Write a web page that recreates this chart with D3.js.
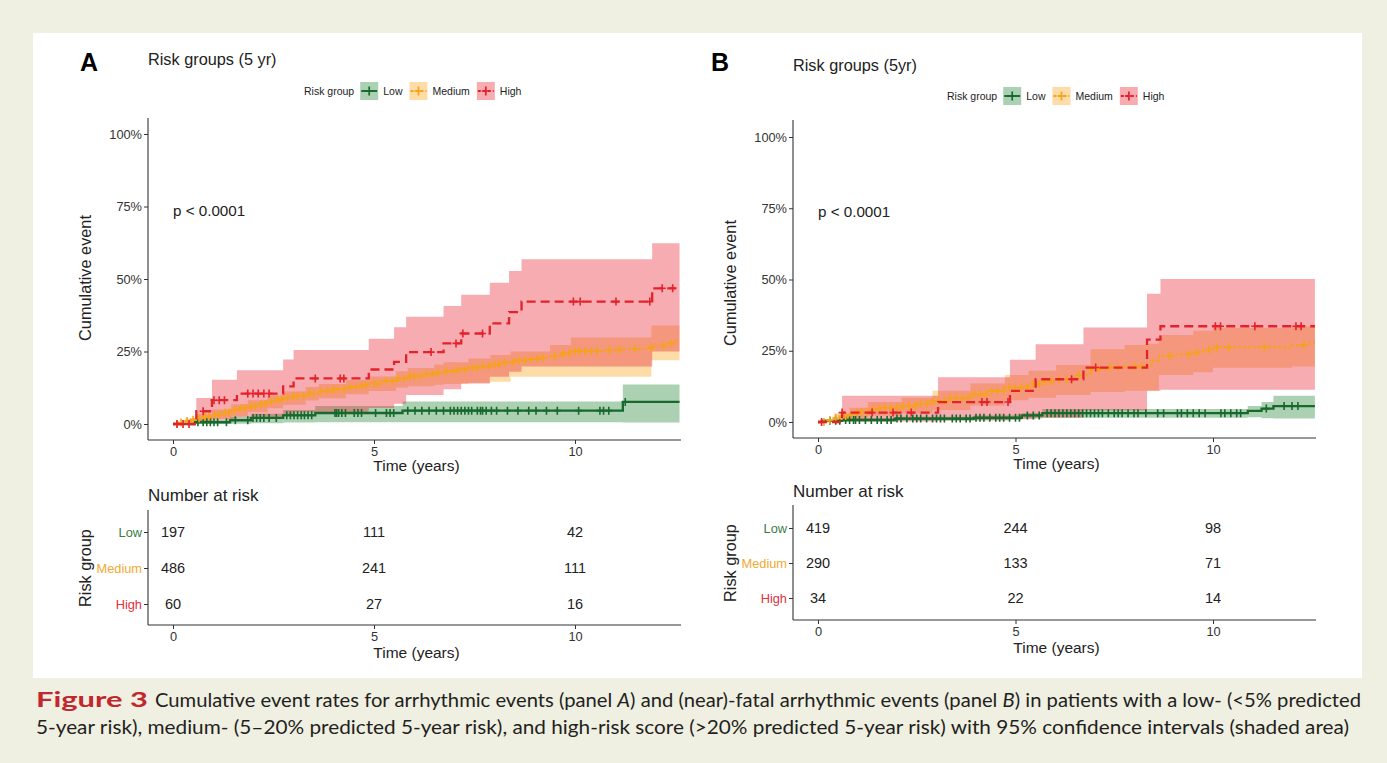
<!DOCTYPE html>
<html>
<head>
<meta charset="utf-8">
<script src="https://cdn.jsdelivr.net/npm/d3@7"></script>
<style>
body{margin:0;background:#efefe2;}
text{font-family:"Liberation Sans",Arial,sans-serif;}
.cap{font-family:Lato,"Open Sans",sans-serif;}
</style>
</head>
<body>
<svg id="fig" width="1387" height="763"></svg>
<script>
// ---- data (percent cumulative event, time in years) ----
const groups = ["Low", "Medium", "High"];
const xTicks = [0, 5, 10];
const yTicks = [0, 25, 50, 75, 100];

// panel A
const aEnd = 12.6;
const aLowT = [0, 0.53, 1.42, 1.95, 2.74, 3.54, 5.71, 11.19];
const aLowEst = [0, 0.6, 1.3, 2.1, 3.0, 3.8, 4.6, 7.6];
const aLowUp = [0, 1.5, 2.5, 3.5, 4.8, 6.2, 7.8, 13.6];
const aLowLo = [0, 0, 0.1, 0.3, 0.5, 0.6, 0.6, 0.5];
const aLowCens = [0.62,0.75,0.84,0.93,1.02,1.11,1.33,1.55,1.86,1.99,2.08,2.17,2.26,2.39,2.57,2.83,2.92,3.01,3.10,3.19,3.27,3.36,3.45,4.03,4.07,4.12,4.20,4.29,4.51,4.60,4.69,5.04,5.31,5.40,5.49,5.84,6.02,6.19,6.37,6.55,6.73,6.90,6.99,7.08,7.17,7.26,7.35,7.43,7.57,7.65,7.70,7.79,7.92,8.05,8.32,8.58,8.85,9.03,9.29,9.56,10.09,10.62,10.71,10.84,11.25];

const aMedT = [0,0.15,0.3,0.45,0.58,0.75,0.97,1.2,1.45,1.65,1.86,2.1,2.35,2.55,2.74,3.0,3.3,3.63,3.95,4.3,4.6,4.87,5.2,5.55,5.84,6.2,6.5,6.73,7.05,7.35,7.61,7.9,8.2,8.5,8.8,9.1,9.38,9.65,9.9,10.7,11.2,11.77,12.0,12.3,12.5];
const aMedEst = [0,0.5,1.0,1.5,2.0,2.6,3.2,4.0,4.8,5.5,6.1,6.9,7.7,8.4,9.0,9.7,10.5,11.3,12.0,12.7,13.3,13.9,14.8,15.7,16.5,17.2,17.7,18.2,18.8,19.4,19.9,20.5,21.2,21.9,22.4,22.9,23.4,24.3,25.1,25.5,25.9,26.3,27.0,27.8,28.6];
const aMedCiT = [0,0.3,0.58,0.97,1.45,1.86,2.35,2.74,3.3,3.63,4.3,4.87,5.55,5.84,6.5,6.73,7.35,7.9,8.4,9.38,9.9,11.9];
const aMedUp = [0,2.0,3.4,5.0,6.8,8.2,9.8,11.2,12.8,13.8,15.2,16.4,18.2,19.3,20.5,21.3,22.6,23.8,25.0,27.2,29.8,34.0];
const aMedLo = [0,0.2,0.8,1.6,2.8,4.1,5.4,6.6,8.1,8.9,10.3,11.4,12.6,13.0,13.5,13.8,14.2,14.6,16.3,16.3,16.3,22.0];
const aMedCens = [0.1,0.2,0.35,0.5,0.65,0.8,0.9,1.05,1.15,1.3,1.4,1.55,1.7,1.8,1.95,2.05,2.2,2.3,2.45,2.6,2.7,2.85,3.0,3.1,3.25,3.4,3.5,3.7,3.85,4.0,4.1,4.25,4.4,4.55,4.7,4.8,5.0,5.1,5.3,5.45,5.6,5.75,5.9,6.0,6.15,6.3,6.45,6.6,6.8,6.95,7.1,7.25,7.45,7.55,7.7,7.85,8.0,8.1,8.25,8.45,8.6,8.75,8.9,9.05,9.2,9.5,9.7,9.85,10.0,10.1,10.25,10.4,10.55,10.85,11.1,11.5,11.9,12.2,12.4];

const aHighT = [0,0.58,0.97,1.59,2.74,3.0,4.87,5.5,5.8,6.73,7.17,7.88,8.36,8.67,11.92];
const aHighEst = [0,4.4,8.2,10.5,13.0,15.7,18.8,21.4,24.8,27.8,31.2,34.7,38.6,42.2,46.8];
const aHighUp = [0,9.0,15.3,18.5,22.2,25.5,29.4,33.4,37.0,40.7,44.6,48.7,52.8,56.8,62.3];
const aHighLo = [0,0.3,1.5,2.3,3.0,4.0,5.5,7.0,10.0,12.0,14.0,16.3,18.0,19.8,25.0];
const aHighCens = [0.1,0.25,0.4,0.75,1.02,1.15,1.28,1.86,1.99,2.12,2.26,2.39,3.54,4.16,4.25,6.42,7.04,7.21,7.70,9.96,10.13,11.02,11.86,12.17,12.43];

const aRiskLow = [197, 111, 42];
const aRiskMed = [486, 241, 111];
const aRiskHigh = [60, 27, 16];

// panel B
const bEnd = 12.58;
const bLowT = [0,0.1,0.61,1.95,3.95,5.16,5.68,10.88,11.23,11.53];
const bLowEst = [0,0.4,0.7,1.2,1.5,2.3,3.1,3.9,4.7,5.6];
const bLowUp = [0,1.0,1.3,1.8,2.3,3.2,4.6,5.6,7.0,9.2];
const bLowLo = [0,0,0.2,0.5,0.7,1.2,1.5,1.7,1.3,1.2];
const bLowCens = [0.3,0.45,0.55,0.7,0.8,0.9,0.95,1.05,1.2,1.35,1.5,1.6,1.75,1.85,2.0,2.1,2.25,2.4,2.5,2.6,2.75,2.9,3.0,3.1,3.2,3.4,3.5,3.6,3.75,3.85,4.0,4.1,4.2,4.35,4.5,4.6,4.7,4.85,5.0,5.1,5.3,5.45,5.6,5.8,5.9,6.0,6.1,6.2,6.3,6.4,6.5,6.6,6.7,6.8,6.9,7.0,7.1,7.2,7.35,7.5,7.6,7.7,7.85,8.0,8.1,8.3,8.6,8.75,9.1,9.2,9.35,9.5,9.65,9.8,10.2,10.3,10.45,10.6,10.7,11.35,11.8,12.0,12.15];

const bMedT = [0,0.2,0.4,0.6,0.8,1.0,1.26,1.6,2.12,2.5,2.9,3.3,3.86,4.3,4.73,5.33,5.7,6.03,6.5,6.9,7.3,7.76,8.28,8.45,8.63,9.0,9.5,9.75,10.0,12.0,12.45];
const bMedEst = [0,0.6,1.4,2.1,2.7,3.5,4.5,5.0,5.6,6.4,7.4,8.4,9.7,10.9,12.1,13.3,14.2,15.0,16.5,18.5,19.2,19.5,19.7,21.5,23.2,23.8,24.4,25.3,26.2,27.0,27.9];
const bMedCiT = [0,0.4,0.8,1.26,2.12,2.9,3.86,4.73,5.33,6.03,6.9,7.76,8.28,8.63,9.5,10.0,12.0];
const bMedUp = [0,3.0,5.0,7.0,8.5,11.0,13.5,16.5,18.0,20.0,25.5,27.0,27.5,30.5,32.0,33.0,33.5];
const bMedLo = [0,0.3,1.0,2.2,3.0,4.2,5.8,7.6,8.5,9.5,10.5,11.0,11.0,16.5,17.5,19.0,19.5];
const bMedCens = [0.15,0.3,0.45,0.6,0.7,0.85,1.0,1.1,1.25,1.4,1.55,1.7,1.85,2.0,2.15,2.3,2.45,2.6,2.75,2.9,3.05,3.2,3.35,3.5,3.65,3.8,3.95,4.1,4.25,4.4,4.55,4.7,4.85,5.0,5.15,5.3,5.45,5.6,5.75,5.9,6.1,6.3,6.6,6.9,7.1,7.4,7.6,8.0,8.2,8.9,9.4,9.6,9.9,10.1,10.4,11.3,12.3];

const bHighT = [0,0.61,3.04,4.86,5.51,6.72,8.33,8.67];
const bHighEst = [0,3.3,7.0,10.9,15.0,19.1,28.9,33.6];
const bHighUp = [0,9.2,15.7,21.8,27.3,33.2,45.0,50.2];
const bHighLo = [0,0.2,0.5,1.0,1.5,4.0,11.0,11.3];
const bHighCens = [0.09,0.61,1.37,1.9,2.36,4.15,4.28,4.81,6.42,7.03,10.06,10.19,11.06,12.1,12.23];

const bRiskLow = [419, 244, 98];
const bRiskMed = [290, 133, 71];
const bRiskHigh = [34, 22, 14];

// ---- styles ----
const lineCol = {Low: "#17692e", Medium: "#f5a31a", High: "#e3222b"};
const fillCol = {Low: "#2e8b3e", Medium: "#f9a825", High: "#e8303a"};
const textCol = {Low: "#3a7d44", Medium: "#f2a933", High: "#e0323c"};
const dash = {Low: null, Medium: "2.5,2.5", High: "9,5"};
const FONT = "Liberation Sans, Arial, sans-serif";

const svg = d3.select("#fig");
svg.append("rect").attr("x", 0).attr("y", 0).attr("width", 1387).attr("height", 763).attr("fill", "#efefe2");
svg.append("rect").attr("x", 33).attr("y", 33).attr("width", 1329).attr("height", 645).attr("fill", "#ffffff");

function stepAt(ts, vs, t) {
    let i = d3.bisectRight(ts, t) - 1;
    return vs[Math.max(i, 0)];
}

function styleAxis(a, size) {
    a.select(".domain").remove();
    a.selectAll("line").attr("stroke", "#333");
    a.selectAll("text").attr("font-size", size).attr("fill", "#333").style("font-family", FONT);
}

function drawPanel(p) {
    var g = svg.append("g");
    var x = d3.scaleLinear().domain([0, 10]).range([p.x0, p.x10]);
    var y = d3.scaleLinear().domain([0, 100]).range([p.y0, p.y100]);

    g.append("text").attr("x", p.letterX).attr("y", 71).attr("font-size", 25).attr("font-weight", "bold").text(p.letter);
    g.append("text").attr("x", p.left).attr("y", p.titleY).attr("font-size", 16.3).attr("fill", "#222").text(p.title);

    // legend
    var lg = g.append("g");
    var lx = p.legX;
    var t0 = lg.append("text").attr("x", lx).attr("y", p.legY + 3.8).attr("font-size", 10.5).attr("fill", "#222").text("Risk group");
    lx += t0.node().getComputedTextLength() + 6;
    groups.forEach(function(k) {
        lg.append("rect").attr("x", lx).attr("y", p.legY - 9).attr("width", 18).attr("height", 18)
          .attr("fill", fillCol[k]).attr("fill-opacity", 0.4);
        lg.append("line").attr("x1", lx + 1).attr("x2", lx + 17).attr("y1", p.legY).attr("y2", p.legY)
          .attr("stroke", lineCol[k]).attr("stroke-width", 1.9).attr("stroke-dasharray", dash[k] ? "3,2" : null);
        lg.append("path").attr("d", "M" + (lx + 9) + "," + (p.legY - 4.5) + "V" + (p.legY + 4.5) + "M" + (lx + 5) + "," + p.legY + "H" + (lx + 13))
          .attr("stroke", lineCol[k]).attr("stroke-width", 1.7).attr("fill", "none");
        lx += 23;
        var tt = lg.append("text").attr("x", lx).attr("y", p.legY + 3.8).attr("font-size", 10.5).attr("fill", "#222").text(k);
        lx += tt.node().getComputedTextLength() + 7;
    });

    var area = d3.area().curve(d3.curveStepAfter)
        .x(function(d) { return x(d.t); })
        .y0(function(d) { return y(d.lo); })
        .y1(function(d) { return y(d.up); });
    var line = d3.line().curve(d3.curveStepAfter)
        .x(function(d) { return x(d.t); })
        .y(function(d) { return y(d.v); });

    // confidence ribbons
    groups.forEach(function(k) {
        var s = p.series[k];
        var dat = s.ciT.map(function(t, i) { return {t: t, lo: s.lo[i], up: s.up[i]}; });
        dat.push({t: p.end, lo: s.lo[s.lo.length - 1], up: s.up[s.up.length - 1]});
        g.append("path").attr("d", area(dat)).attr("fill", fillCol[k]).attr("fill-opacity", 0.4);
    });
    // curves + censor marks
    groups.forEach(function(k) {
        var s = p.series[k];
        var dat = s.t.map(function(t, i) { return {t: t, v: s.est[i]}; });
        dat.push({t: p.end, v: s.est[s.est.length - 1]});
        g.append("path").attr("d", line(dat)).attr("fill", "none")
          .attr("stroke", lineCol[k]).attr("stroke-width", 2.3).attr("stroke-dasharray", dash[k]);
        g.append("g").selectAll("path").data(s.cens).enter().append("path")
          .attr("transform", function(d) { return "translate(" + x(d) + "," + y(stepAt(s.t, s.est, d)) + ")"; })
          .attr("d", "M0,-4V4M-3.5,0H3.5")
          .attr("stroke", lineCol[k]).attr("stroke-width", 1.6);
    });

    // axes
    g.append("line").attr("x1", p.left).attr("x2", p.left).attr("y1", p.top).attr("y2", p.bottom).attr("stroke", "#333").attr("stroke-width", 1.1);
    g.append("line").attr("x1", p.left).attr("x2", p.right).attr("y1", p.bottom).attr("y2", p.bottom).attr("stroke", "#333").attr("stroke-width", 1.1);
    var ya = g.append("g").attr("transform", "translate(" + p.left + ",0)")
        .call(d3.axisLeft(y).tickValues(yTicks).tickFormat(function(d) { return d + "%"; }).tickSize(4).tickPadding(2));
    styleAxis(ya, 12.8);
    var xa = g.append("g").attr("transform", "translate(0," + p.bottom + ")")
        .call(d3.axisBottom(x).tickValues(xTicks).tickSize(4).tickPadding(3));
    styleAxis(xa, 12.8);

    g.append("text").attr("x", (p.left + p.right) / 2 + 2).attr("y", p.bottom + 31).attr("text-anchor", "middle").attr("font-size", 15.5).attr("fill", "#222").text("Time (years)");
    g.append("text").attr("transform", "translate(" + p.ylabX + "," + p.ylabY + ") rotate(-90)").attr("text-anchor", "middle").attr("font-size", 16.3).attr("fill", "#222").text("Cumulative event");
    g.append("text").attr("x", x(0)).attr("y", y(p.pY) + 5.5).attr("font-size", 15.2).attr("fill", "#222").text("p < 0.0001");

    // number at risk table
    g.append("text").attr("x", p.left).attr("y", p.nrY).attr("font-size", 17).attr("fill", "#222").text("Number at risk");
    var ry = d3.scalePoint().domain(groups).range([p.rowTop, p.rowBot]);
    g.append("line").attr("x1", p.left).attr("x2", p.left).attr("y1", p.tTop).attr("y2", p.tBot).attr("stroke", "#333").attr("stroke-width", 1.1);
    g.append("line").attr("x1", p.left).attr("x2", p.right).attr("y1", p.tBot).attr("y2", p.tBot).attr("stroke", "#333").attr("stroke-width", 1.1);
    var ra = g.append("g").attr("transform", "translate(" + p.left + ",0)")
        .call(d3.axisLeft(ry).tickSize(4).tickPadding(2));
    styleAxis(ra, 12.8);
    ra.selectAll("text").attr("fill", function(d) { return textCol[d]; });
    groups.forEach(function(k) {
        g.append("g").selectAll("text").data(p.risk[k]).enter().append("text")
          .attr("x", function(d, i) { return x(xTicks[i]); })
          .attr("y", ry(k) + 5).attr("text-anchor", "middle").attr("font-size", 14.5).attr("fill", "#222")
          .text(function(d) { return d; });
    });
    var xb = g.append("g").attr("transform", "translate(0," + p.tBot + ")")
        .call(d3.axisBottom(x).tickValues(xTicks).tickSize(4).tickPadding(3));
    styleAxis(xb, 12.8);
    g.append("text").attr("x", (p.left + p.right) / 2 + 2).attr("y", p.tBot + 33).attr("text-anchor", "middle").attr("font-size", 15.5).attr("fill", "#222").text("Time (years)");
    g.append("text").attr("transform", "translate(" + p.ylabX + "," + ((p.rowTop + p.rowBot) / 2) + ") rotate(-90)").attr("text-anchor", "middle").attr("font-size", 16.3).attr("fill", "#222").text("Risk group");
}

drawPanel({
    letter: "A", letterX: 80, title: "Risk groups (5 yr)", titleY: 65,
    legX: 304, legY: 91,
    x0: 173, x10: 575, y0: 424, y100: 134,
    left: 148, right: 681, top: 118, bottom: 440,
    ylabX: 91, ylabY: 278, pY: 73.5, end: aEnd,
    nrY: 501, tTop: 510, tBot: 625, rowTop: 532, rowBot: 604,
    series: {
        Low: {t: aLowT, est: aLowEst, ciT: aLowT, up: aLowUp, lo: aLowLo, cens: aLowCens},
        Medium: {t: aMedT, est: aMedEst, ciT: aMedCiT, up: aMedUp, lo: aMedLo, cens: aMedCens},
        High: {t: aHighT, est: aHighEst, ciT: aHighT, up: aHighUp, lo: aHighLo, cens: aHighCens}
    },
    risk: {Low: aRiskLow, Medium: aRiskMed, High: aRiskHigh}
});

drawPanel({
    letter: "B", letterX: 711, title: "Risk groups (5yr)", titleY: 71,
    legX: 947, legY: 96,
    x0: 818, x10: 1213, y0: 422, y100: 137,
    left: 793, right: 1316, top: 120, bottom: 438,
    ylabX: 736, ylabY: 283, pY: 74, end: bEnd,
    nrY: 497, tTop: 505, tBot: 620, rowTop: 528, rowBot: 598,
    series: {
        Low: {t: bLowT, est: bLowEst, ciT: bLowT, up: bLowUp, lo: bLowLo, cens: bLowCens},
        Medium: {t: bMedT, est: bMedEst, ciT: bMedCiT, up: bMedUp, lo: bMedLo, cens: bMedCens},
        High: {t: bHighT, est: bHighEst, ciT: bHighT, up: bHighUp, lo: bHighLo, cens: bHighCens}
    },
    risk: {Low: bRiskLow, Medium: bRiskMed, High: bRiskHigh}
});

// caption
svg.append("text").attr("class", "cap").attr("x", 36).attr("y", 707).attr("font-size", 20).attr("font-weight", "bold")
   .attr("fill", "#c1272d").attr("textLength", 112).attr("lengthAdjust", "spacingAndGlyphs").text("Figure 3");
var c1 = svg.append("text").attr("class", "cap").attr("x", 155).attr("y", 707).attr("font-size", 18.5).attr("fill", "#231f20")
   .attr("textLength", 1206).attr("lengthAdjust", "spacingAndGlyphs");
c1.append("tspan").text("Cumulative event rates for arrhythmic events (panel ");
c1.append("tspan").attr("font-style", "italic").text("A");
c1.append("tspan").text(") and (near)-fatal arrhythmic events (panel ");
c1.append("tspan").attr("font-style", "italic").text("B");
c1.append("tspan").text(") in patients with a low- (<5% predicted");
svg.append("text").attr("class", "cap").attr("x", 36).attr("y", 734).attr("font-size", 18.5).attr("fill", "#231f20")
   .attr("textLength", 1313).attr("lengthAdjust", "spacingAndGlyphs")
   .text("5-year risk), medium- (5\u201320% predicted 5-year risk), and high-risk score (>20% predicted 5-year risk) with 95% confidence intervals (shaded area)");
</script>
</body>
</html>
